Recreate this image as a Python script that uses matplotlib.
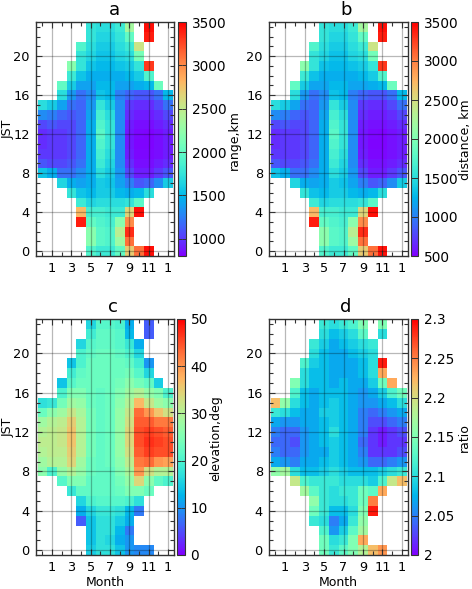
import numpy as np
import matplotlib
matplotlib.use("Agg")
import matplotlib.pyplot as plt
from matplotlib.ticker import MultipleLocator, FixedLocator

N = np.nan
months = list(range(14))           # 0 = Dec (prev), 1..12, 13 = Jan (next)
month_ticks = [1, 3, 5, 7, 9, 11, 13]
month_labels = ["1", "3", "5", "7", "9", "11", "1"]
hours = list(range(24))
hour_ticks = [0, 4, 8, 12, 16, 20]

# rows: JST hour 0..23, columns: month 0..13
range_km = [
    [N, N, N, N, N, 1900, 1800, 1800, 2000, 2700, 3100, 3450, N, N],
    [N, N, N, N, N, 2200, 1950, 1900, 2300, 3100, N, N, N, N],
    [N, N, N, N, N, 2200, 1950, 1900, 2450, 3350, N, N, N, N],
    [N, N, N, N, 3400, 2000, 1900, 1850, 2200, 3000, N, N, N, N],
    [N, N, N, N, 2800, 1850, 1850, 1800, 1800, 2650, 3450, N, N, N],
    [N, N, N, N, 1800, 1650, 1700, 1700, 1700, 1750, 1950, N, N, N],
    [N, N, N, 1750, 1550, 1500, 1600, 1600, 1500, 1450, 1500, 1700, N, N],
    [N, N, 1650, 1450, 1400, 1450, 1600, 1550, 1400, 1250, 1100, 1150, 1300, 1600],
    [1550, 1450, 1200, 1200, 1300, 1450, 1700, 1600, 1350, 1050, 900, 900, 1000, 1100],
    [1100, 1050, 1050, 1100, 1200, 1450, 1800, 1650, 1300, 950, 850, 850, 900, 950],
    [1000, 1000, 1000, 1050, 1150, 1450, 1850, 1700, 1300, 900, 830, 830, 850, 900],
    [950, 1000, 1000, 1050, 1150, 1450, 1900, 1750, 1300, 880, 820, 820, 850, 900],
    [950, 1000, 1000, 1050, 1150, 1450, 1950, 1750, 1300, 880, 830, 820, 850, 900],
    [1050, 1100, 1050, 1050, 1150, 1450, 1900, 1750, 1300, 900, 850, 850, 900, 950],
    [1300, 1250, 1150, 1100, 1150, 1400, 1850, 1700, 1300, 950, 900, 900, 950, 1050],
    [1700, 1600, 1400, 1200, 1150, 1350, 1750, 1600, 1300, 1000, 950, 950, 1050, 1200],
    [N, N, 1700, 1350, 1200, 1300, 1550, 1500, 1250, 1150, 1100, 1100, 1200, 1500],
    [N, N, 2000, 1600, 1400, 1400, 1500, 1500, 1400, 1400, 1450, 1500, 2050, N],
    [N, N, N, 1800, 1550, 1450, 1450, 1450, 1450, 1500, 1600, 1900, N, N],
    [N, N, N, 2200, 1750, 1550, 1500, 1500, 1550, 1600, 1750, 3300, N, N],
    [N, N, N, N, 1750, 1650, 1550, 1550, 1650, 1700, 2100, N, N, N],
    [N, N, N, N, 1900, 1700, 1600, 1600, 1700, 1800, 2550, N, N, N],
    [N, N, N, N, N, 1750, 1650, 1650, 1750, 2000, N, 3400, N, N],
    [N, N, N, N, N, 1750, 1700, 1700, 1800, 2350, N, 3450, N, N],
]

distance_km = [
    [N, N, N, N, N, 1720, 1610, 1610, 1830, 2610, 3060, 3440, N, N],
    [N, N, N, N, N, 2060, 1780, 1720, 2170, 3060, N, N, N, N],
    [N, N, N, N, N, 2060, 1780, 1720, 2330, 3330, N, N, N, N],
    [N, N, N, N, 3390, 1830, 1720, 1670, 2060, 2940, N, N, N, N],
    [N, N, N, N, 2720, 1670, 1670, 1610, 1610, 2560, 3440, N, N, N],
    [N, N, N, N, 1610, 1440, 1500, 1500, 1500, 1560, 1780, N, N, N],
    [N, N, N, 1560, 1330, 1280, 1390, 1390, 1280, 1220, 1280, 1500, N, N],
    [N, N, 1440, 1220, 1170, 1220, 1390, 1330, 1170, 1000, 830, 890, 1060, 1390],
    [1330, 1220, 940, 940, 1060, 1220, 1500, 1390, 1110, 780, 610, 610, 720, 830],
    [830, 780, 780, 830, 940, 1220, 1610, 1440, 1060, 670, 560, 560, 610, 670],
    [720, 720, 720, 780, 890, 1220, 1670, 1500, 1060, 610, 530, 530, 560, 610],
    [670, 720, 720, 780, 890, 1220, 1720, 1560, 1060, 590, 520, 520, 560, 610],
    [670, 720, 720, 780, 890, 1220, 1780, 1560, 1060, 590, 530, 520, 560, 610],
    [780, 830, 780, 780, 890, 1220, 1720, 1560, 1060, 610, 560, 560, 610, 670],
    [1060, 1000, 890, 830, 890, 1170, 1670, 1500, 1060, 670, 610, 610, 670, 780],
    [1500, 1390, 1170, 940, 890, 1110, 1560, 1390, 1060, 720, 670, 670, 780, 940],
    [N, N, 1500, 1110, 940, 1060, 1330, 1280, 1000, 890, 830, 830, 940, 1280],
    [N, N, 1830, 1390, 1170, 1170, 1280, 1280, 1170, 1170, 1220, 1280, 1890, N],
    [N, N, N, 1610, 1330, 1220, 1220, 1220, 1220, 1280, 1390, 1720, N, N],
    [N, N, N, 2060, 1560, 1330, 1280, 1280, 1330, 1390, 1560, 3280, N, N],
    [N, N, N, N, 1560, 1440, 1330, 1330, 1440, 1500, 1940, N, N, N],
    [N, N, N, N, 1720, 1500, 1390, 1390, 1500, 1610, 2440, N, N, N],
    [N, N, N, N, N, 1560, 1440, 1440, 1560, 1830, N, 3390, N, N],
    [N, N, N, N, N, 1560, 1500, 1500, 1610, 2220, N, 3440, N, N],
]

elevation_deg = [
    [N, N, N, N, N, 15, 17, 17, 14, 10, 9, 9, N, N],
    [N, N, N, N, N, 14, 17, 16, 12, 10, N, N, N, N],
    [N, N, N, N, N, 14, 17, 17, 13, 8, N, N, N, N],
    [N, N, N, N, 6, 14, 17, 17, 15, 12, N, N, N, N],
    [N, N, N, N, 12, 16, 18, 18, 17, 13, 8, N, N, N],
    [N, N, N, N, 16, 20, 21, 21, 21, 20, 17, N, N, N],
    [N, N, N, 18, 22, 22, 22, 22, 23, 25, 25, 23, N, N],
    [N, N, 21, 25, 25, 22, 22, 22, 24, 27, 34, 26, 22, 20],
    [26, 20, 27, 30, 27, 23, 22, 22, 25, 29, 40, 33, 30, 30],
    [28, 30, 30, 34, 28, 23, 22, 23, 26, 31, 42, 43, 40, 39],
    [30, 31, 31, 35, 30, 24, 22, 23, 27, 33, 44, 46, 45, 45],
    [31, 31, 32, 36, 30, 24, 22, 23, 27, 34, 45, 47, 46, 45],
    [30, 31, 32, 36, 30, 24, 22, 23, 27, 34, 45, 46, 45, 44],
    [28, 30, 31, 35, 30, 24, 22, 23, 27, 33, 44, 44, 42, 42],
    [23, 26, 28, 32, 29, 24, 22, 23, 27, 32, 43, 40, 36, 33],
    [17, 18, 24, 28, 27, 23, 22, 23, 26, 30, 37, 32, 28, 26],
    [N, N, 20, 25, 25, 23, 22, 23, 25, 28, 30, 27, 25, 20],
    [N, N, 14, 21, 23, 23, 23, 23, 24, 26, 24, 22, 15, N],
    [N, N, N, 19, 22, 23, 23, 23, 23, 24, 21, 16, N, N],
    [N, N, N, 14, 20, 23, 23, 23, 23, 22, 19, 10, N, N],
    [N, N, N, N, 20, 22, 23, 23, 22, 20, 16, N, N, N],
    [N, N, N, N, 16, 21, 22, 22, 21, 18, 12, N, N, N],
    [N, N, N, N, N, 19, 22, 22, 21, 13, N, 6, N, N],
    [N, N, N, N, N, 16, 21, 21, 20, 12, N, 6, N, N],
]

ratio = [
    [N, N, N, N, N, 2.14, 2.11, 2.13, 2.15, 2.18, 2.22, 2.24, N, N],
    [N, N, N, N, N, 2.14, 2.10, 2.11, 2.15, 2.23, N, N, N, N],
    [N, N, N, N, N, 2.12, 2.06, 2.09, 2.13, 2.17, N, N, N, N],
    [N, N, N, N, 2.11, 2.10, 2.05, 2.07, 2.11, 2.16, N, N, N, N],
    [N, N, N, N, 2.14, 2.11, 2.08, 2.08, 2.10, 2.15, 2.29, N, N, N],
    [N, N, N, N, 2.16, 2.11, 2.10, 2.10, 2.11, 2.14, 2.25, N, N, N],
    [N, N, N, 2.17, 2.13, 2.11, 2.10, 2.11, 2.11, 2.14, 2.13, 2.23, N, N],
    [N, N, 2.19, 2.12, 2.11, 2.11, 2.11, 2.10, 2.10, 2.10, 2.09, 2.12, 2.19, 2.22],
    [2.16, 2.17, 2.10, 2.08, 2.08, 2.09, 2.10, 2.09, 2.08, 2.08, 2.08, 2.09, 2.10, 2.11],
    [2.07, 2.06, 2.05, 2.07, 2.07, 2.08, 2.09, 2.08, 2.07, 2.06, 2.04, 2.04, 2.05, 2.06],
    [2.05, 2.04, 2.04, 2.06, 2.07, 2.07, 2.09, 2.08, 2.07, 2.05, 2.02, 2.02, 2.02, 2.03],
    [2.04, 2.04, 2.03, 2.06, 2.07, 2.08, 2.09, 2.08, 2.07, 2.04, 2.02, 2.01, 2.02, 2.02],
    [2.05, 2.04, 2.04, 2.06, 2.07, 2.08, 2.10, 2.08, 2.07, 2.05, 2.02, 2.01, 2.02, 2.03],
    [2.07, 2.06, 2.06, 2.07, 2.07, 2.08, 2.09, 2.08, 2.07, 2.05, 2.03, 2.03, 2.04, 2.05],
    [2.11, 2.10, 2.08, 2.07, 2.07, 2.09, 2.09, 2.08, 2.07, 2.05, 2.04, 2.05, 2.06, 2.07],
    [2.22, 2.16, 2.10, 2.08, 2.07, 2.08, 2.09, 2.08, 2.07, 2.06, 2.06, 2.07, 2.08, 2.10],
    [N, N, 2.12, 2.08, 2.07, 2.08, 2.08, 2.08, 2.07, 2.06, 2.07, 2.09, 2.12, 2.14],
    [N, N, 2.15, 2.10, 2.08, 2.08, 2.07, 2.08, 2.07, 2.07, 2.09, 2.14, 2.23, N],
    [N, N, N, 2.10, 2.08, 2.08, 2.07, 2.07, 2.07, 2.08, 2.10, 2.23, N, N],
    [N, N, N, 2.12, 2.09, 2.08, 2.07, 2.07, 2.07, 2.08, 2.10, 2.29, N, N],
    [N, N, N, N, 2.10, 2.08, 2.07, 2.07, 2.08, 2.09, 2.10, N, N, N],
    [N, N, N, N, 2.11, 2.09, 2.07, 2.08, 2.09, 2.10, 2.11, N, N, N],
    [N, N, N, N, N, 2.10, 2.08, 2.09, 2.10, 2.13, N, 2.10, N, N],
    [N, N, N, N, N, 2.11, 2.10, 2.11, 2.12, 2.15, N, 2.15, N, N],
]

panels = [
    dict(title="a", data=range_km, vmin=800, vmax=3500, ticks=[1000, 1500, 2000, 2500, 3000, 3500],
         tlabels=["1000", "1500", "2000", "2500", "3000", "3500"], clabel="range,km",
         box=(36, 174, 22, 256), cbox=(178, 186), title_x=114, clab_x=234, ylab=True, xlab=False),
    dict(title="b", data=distance_km, vmin=500, vmax=3500, ticks=[500, 1000, 1500, 2000, 2500, 3000, 3500],
         tlabels=["500", "1000", "1500", "2000", "2500", "3000", "3500"], clabel="distance, km",
         box=(269, 408, 22, 256), cbox=(411, 418), title_x=346, clab_x=465, ylab=False, xlab=False),
    dict(title="c", data=elevation_deg, vmin=0, vmax=50, ticks=[0, 10, 20, 30, 40, 50],
         tlabels=["0", "10", "20", "30", "40", "50"], clabel="elevation,deg",
         box=(36, 174, 319, 555), cbox=(177, 185), title_x=113, clab_x=216, ylab=True, xlab=True),
    dict(title="d", data=ratio, vmin=2.0, vmax=2.3, ticks=[2.0, 2.05, 2.1, 2.15, 2.2, 2.25, 2.3],
         tlabels=["2", "2.05", "2.1", "2.15", "2.2", "2.25", "2.3"], clabel="ratio",
         box=(269, 408, 319, 555), cbox=(411, 418), title_x=346, clab_x=464, ylab=False, xlab=True),
]

W, H = 472, 589
fig = plt.figure(figsize=(W / 100, H / 100), dpi=100)
fs = 9.3
cfs = 9.8
lfs = 9.0

def rect(x0, x1, y0, y1):
    return [x0 / W, 1 - y1 / H, (x1 - x0) / W, (y1 - y0) / H]

xe = np.arange(len(months) + 1) - 0.5
ye = np.arange(len(hours) + 1) - 0.5

for p in panels:
    x0, x1, y0, y1 = p["box"]
    ax = fig.add_axes(rect(x0, x1, y0, y1))
    Z = np.ma.masked_invalid(np.array(p["data"], dtype=float))
    im = ax.pcolormesh(xe, ye, Z, cmap="rainbow", vmin=p["vmin"], vmax=p["vmax"],
                       shading="flat", linewidth=0, antialiased=False)
    ax.set_xlim(-0.66, 13.62)
    ax.set_ylim(-0.5, 23.5)
    ax.xaxis.set_major_locator(FixedLocator(month_ticks))
    ax.set_xticklabels(month_labels)
    ax.xaxis.set_minor_locator(MultipleLocator(1))
    ax.yaxis.set_major_locator(FixedLocator(hour_ticks))
    ax.yaxis.set_minor_locator(MultipleLocator(1))
    ax.tick_params(which="both", direction="in", top=True, right=True, labelsize=fs,
                   color="#333333")
    ax.tick_params(which="major", length=4.5, width=0.8)
    ax.tick_params(axis="y", which="major", pad=4.5)
    ax.tick_params(axis="x", which="major", pad=4)
    ax.tick_params(which="minor", length=3, width=0.8)
    ax.set_axisbelow(False)
    ax.grid(True, which="major", color="k", alpha=0.28, lw=0.9)
    for s in ax.spines.values():
        s.set_color("#333333")
        s.set_linewidth(1.0)
    yc = (y0 + y1) / 2
    if p["ylab"]:
        fig.text(8 / W, 1 - (yc - 10) / H, "JST", fontsize=lfs, rotation=90,
                 ha="center", va="center")
    if p["xlab"]:
        fig.text(((x0 + x1) / 2) / W, 1 - 582 / H, "Month", fontsize=lfs,
                 ha="center", va="center")
    fig.text(p["title_x"] / W, 1 - (y0 - 12) / H, p["title"], fontsize=13,
             ha="center", va="center")

    c0, c1 = p["cbox"]
    cax = fig.add_axes(rect(c0, c1, y0, y1))
    cb = fig.colorbar(im, cax=cax)
    cb.set_ticks(p["ticks"])
    cb.set_ticklabels(p["tlabels"])
    cb.outline.set_linewidth(0.8)
    cb.outline.set_edgecolor("#333333")
    cax.tick_params(direction="in", length=3, width=0.7, labelsize=cfs, pad=4, left=True,
                    color="#333333")
    fig.text(p["clab_x"] / W, 1 - (yc + 1) / H, p["clabel"], fontsize=lfs, rotation=90,
             ha="center", va="center")

fig.savefig("out.png", dpi=100)
